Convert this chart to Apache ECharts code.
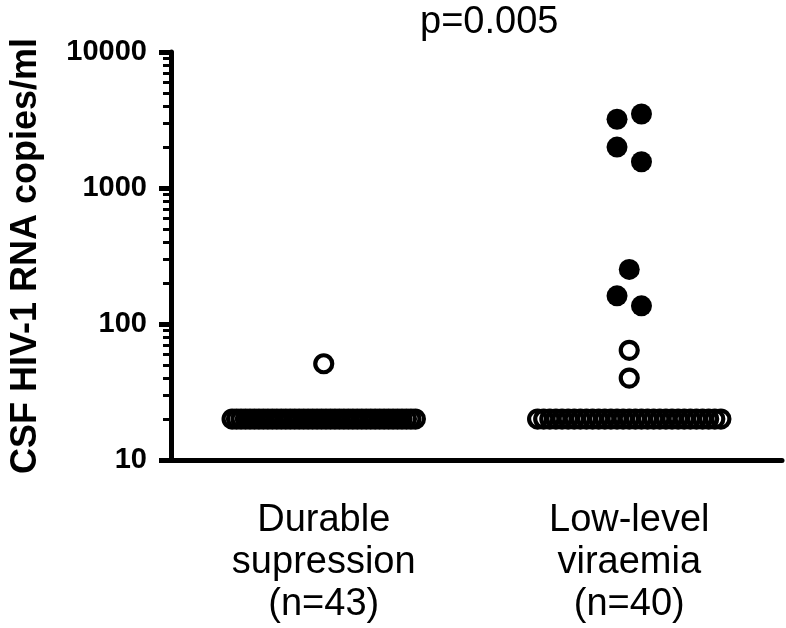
<!DOCTYPE html>
<html>
<head>
<meta charset="utf-8">
<script src="https://cdn.jsdelivr.net/npm/echarts@6/dist/echarts.min.js"></script>
<style>html,body{margin:0;padding:0;background:#fff}#c{width:786px;height:628px}</style>
</head>
<body>
<div id="c"></div>
<script>
// ---- data ----
const categories = ['Durable\nsupression\n(n=43)', 'Low-level\nviraemia\n(n=40)'];
const yTickValues = [10, 100, 1000, 10000];
const minorTickValues = [20, 30, 40, 50, 60, 70, 80, 90, 200, 300, 400, 500, 600, 700, 800, 900, 2000, 3000, 4000, 5000, 6000, 7000, 8000, 9000];
const yTitle = 'CSF HIV-1 RNA copies/ml';
const pText = 'p=0.005';
// Durable suppression: open circles (43)
const durableAbove = [51];
const durableFloor = [20,20,20,20,20,20,20,20,20,20,20,20,20,20,20,20,20,20,20,20,20,20,20,20,20,20,20,20,20,20,20,20,20,20,20,20,20,20,20,20,20,20];
// Low-level viraemia (40)
const lowFilled = [3500, 3200, 2000, 1560, 252, 161, 136];
const lowOpenAbove = [64, 40];
const lowFloor = [20,20,20,20,20,20,20,20,20,20,20,20,20,20,20,20,20,20,20,20,20,20,20,20,20,20,20,20,20,20,20];

// ---- layout (horizontal placement of overlapping points) ----
const filledLane = [1, -1, -1, 1, 0, -1, 1];
const laneStep = 0.04;
const floorSpread = 0.6;
function spreadFloor(vals, center) {
  const n = vals.length;
  return vals.map((v, i) => [center + (i / (n - 1) - 0.5) * floorSpread, v]);
}
const openData = []
  .concat(spreadFloor(durableFloor, 0.5))
  .concat(durableAbove.map(v => [0.5, v]))
  .concat(spreadFloor(lowFloor, 1.5))
  .concat(lowOpenAbove.map(v => [1.5, v]));
const filledData = lowFilled.map((v, i) => [1.5 + filledLane[i] * laneStep, v]);

const FONT = '"Liberation Sans", Arial, Helvetica, sans-serif';
const chart = echarts.init(document.getElementById('c'));
chart.setOption({
  animation: false,
  backgroundColor: '#fff',
  textStyle: { fontFamily: FONT },
  graphic: [{
    type: 'text', left: 420, top: 4,
    style: { text: pText, font: '38px ' + FONT, fill: '#000' }
  }],
  grid: { left: 167, right: 4, top: 52, bottom: 168, containLabel: false },
  xAxis: [{
    type: 'category', data: categories, boundaryGap: true,
    axisLine: { lineStyle: { color: '#000', width: 5 } },
    axisTick: { alignWithLabel: true, length: 13, lineStyle: { color: '#000', width: 5 } },
    axisLabel: { color: '#000', fontSize: 38, lineHeight: 42, margin: 40, fontFamily: FONT },
    splitLine: { show: false }
  }, {
    type: 'value', min: 0, max: 2, show: false
  }],
  yAxis: [{
    type: 'log', logBase: 10, min: 10, max: 10000,
    name: yTitle, nameLocation: 'middle', nameGap: 127, nameRotate: 90,
    nameTextStyle: { color: '#000', fontSize: 36, fontWeight: 'bold', fontFamily: FONT },
    axisLine: { show: true, lineStyle: { color: '#000', width: 5 } },
    axisTick: { show: true, length: 12, lineStyle: { color: '#000', width: 5 }, customValues: yTickValues },
    axisLabel: { color: '#000', fontSize: 29, fontWeight: 'bold', margin: 24, fontFamily: FONT,
                 customValues: yTickValues, formatter: v => String(v) },
    splitLine: { show: false }
  }, {
    type: 'log', logBase: 10, min: 10, max: 10000, position: 'left', offset: 0,
    axisLine: { show: false },
    axisTick: { show: true, length: 8, lineStyle: { color: '#000', width: 3 }, customValues: minorTickValues },
    axisLabel: { show: false },
    splitLine: { show: false }
  }],
  series: [{
    type: 'scatter', xAxisIndex: 1, yAxisIndex: 0,
    data: openData, symbol: 'circle', symbolSize: 17,
    itemStyle: { color: 'rgba(0,0,0,0)', borderColor: '#000', borderWidth: 4.2, opacity: 1 },
    emphasis: { disabled: true }
  }, {
    type: 'scatter', xAxisIndex: 1, yAxisIndex: 0,
    data: filledData, symbol: 'circle', symbolSize: 21,
    itemStyle: { color: '#000', opacity: 1 },
    emphasis: { disabled: true }
  }]
});
</script>
</body>
</html>
